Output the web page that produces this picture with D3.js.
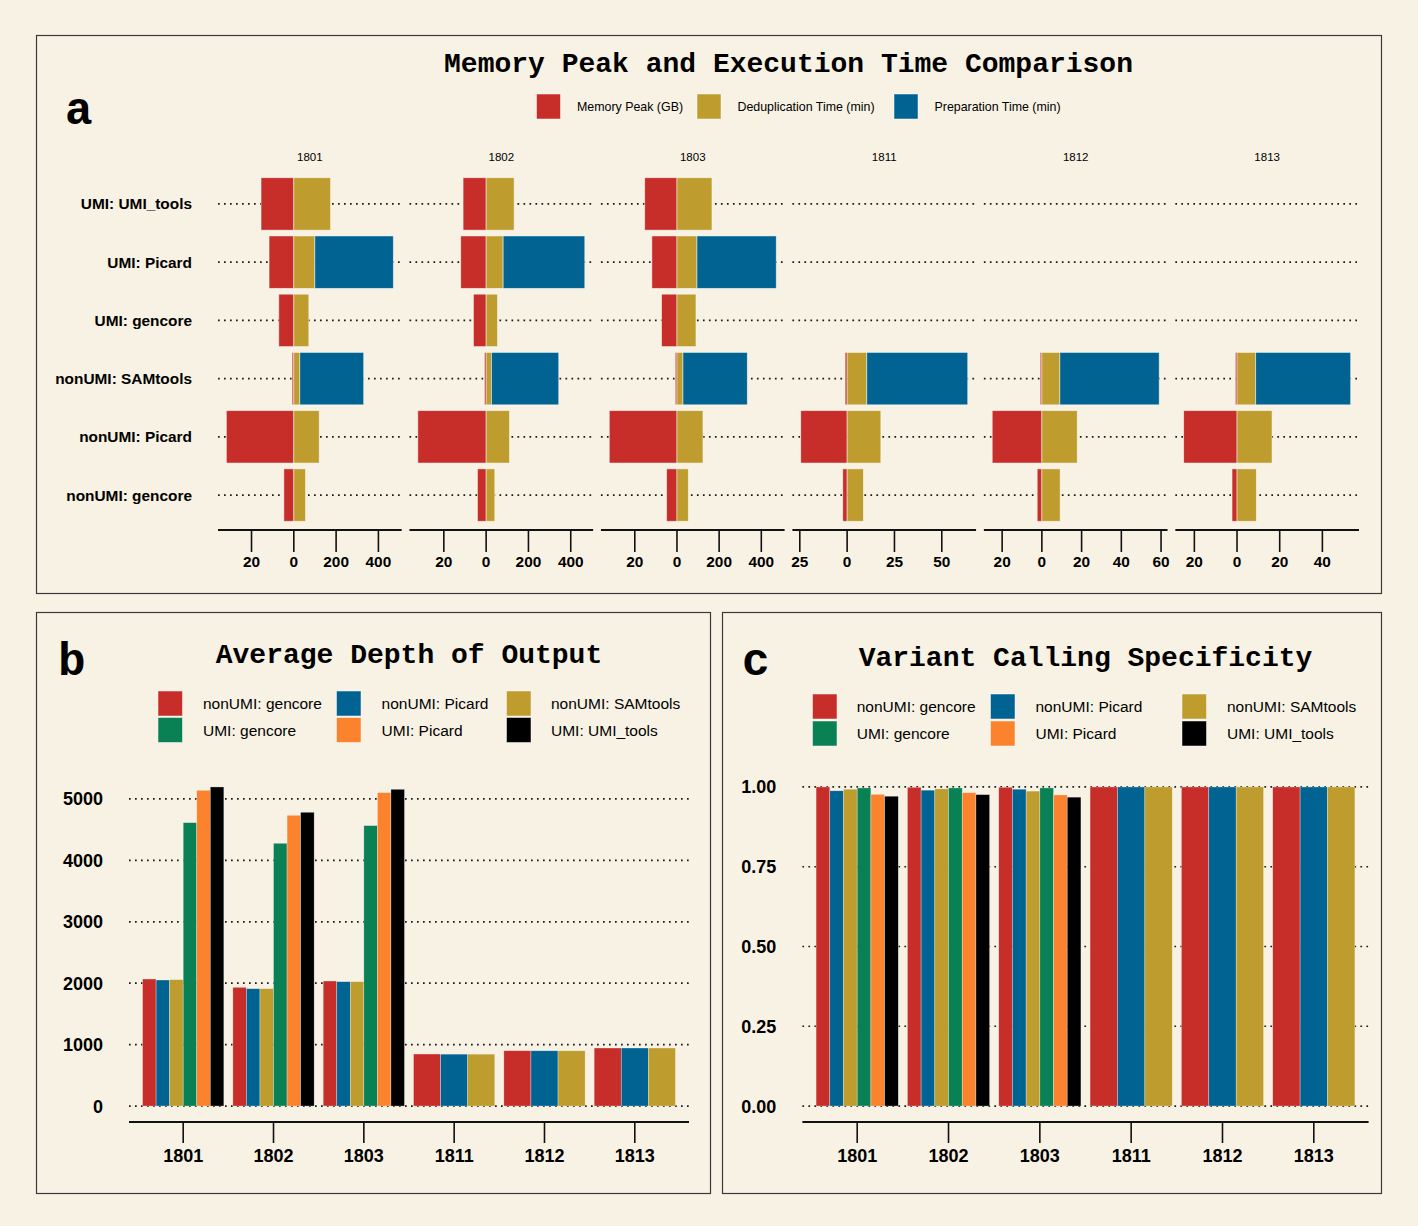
<!DOCTYPE html>
<html><head><meta charset="utf-8">
<script src="https://cdn.jsdelivr.net/npm/d3@7"></script>
<style>body{margin:0;background:#F8F2E4;} svg{display:block}</style>
</head><body>
<svg id="chart" width="1418" height="1226"></svg>
<script>
// ---------- DATA ----------
const samples = ["1801", "1802", "1803", "1811", "1812", "1813"];
// panel a rows (top to bottom)
const rowMethods = ["UMI: UMI_tools", "UMI: Picard", "UMI: gencore", "nonUMI: SAMtools", "nonUMI: Picard", "nonUMI: gencore"];
// memory is drawn multiplied by this factor in each facet
const memoryFactor = [10, 10, 10, 1, 1, 1];
// memory peak (GB) per sample, in rowMethods order
const memoryPeak = [
  [15.5, 11.7, 7.1, 0.8, 31.9, 4.7],
  [10.9, 12.0, 6.0, 0.8, 32.3, 4.1],
  [15.3, 11.9, 7.3, 0.8, 32.1, 4.9],
  [null, null, null, 1.06, 24.5, 2.3],
  [null, null, null, 0.84, 25.0, 2.35],
  [null, null, null, 0.78, 25.0, 2.34]
];
// deduplication time (min)
const dedupTime = [
  [173.8, 99.5, 71.0, 28.4, 120.0, 55.3],
  [132.4, 80.4, 53.6, 25.2, 110.3, 41.0],
  [166.0, 94.9, 90.1, 28.5, 123.3, 53.8],
  [null, null, null, 10.4, 17.8, 8.6],
  [null, null, null, 9.06, 17.8, 9.2],
  [null, null, null, 8.75, 16.4, 9.06]
];
// preparation time (min)
const prepTime = [
  [0, 371, 0, 302, 0, 0],
  [0, 386, 0, 318, 0, 0],
  [0, 376, 0, 305, 0, 0],
  [null, null, null, 53.3, 0, 0],
  [null, null, null, 50.0, 0, 0],
  [null, null, null, 44.5, 0, 0]
];
// axis tick values per facet (plotted units; negatives are memory side)
const facetTicks = [
  [-200, 0, 200, 400],
  [-200, 0, 200, 400],
  [-200, 0, 200, 400],
  [-25, 0, 25, 50],
  [-20, 0, 20, 40, 60],
  [-20, 0, 20, 40]
];
const legendA = ["Memory Peak (GB)", "Deduplication Time (min)", "Preparation Time (min)"];

// panels b & c: methods in dodge order
const methods = ["nonUMI: gencore", "nonUMI: Picard", "nonUMI: SAMtools", "UMI: gencore", "UMI: Picard", "UMI: UMI_tools"];
const depth = [
  [2068, 2052, 2058, 4614, 5141, 5195],
  [1933, 1911, 1911, 4278, 4734, 4783],
  [2036, 2025, 2025, 4566, 5103, 5157],
  [847, 845, 845],
  [901, 900, 900],
  [945, 945, 945]
];
const specificity = [
  [1.000, 0.988, 0.993, 0.997, 0.977, 0.971],
  [0.999, 0.990, 0.994, 0.997, 0.982, 0.976],
  [0.999, 0.993, 0.987, 0.997, 0.975, 0.968],
  [1.000, 1.000, 1.000],
  [1.000, 1.000, 1.000],
  [1.000, 1.000, 1.000]
];
const depthTicks = [0, 1000, 2000, 3000, 4000, 5000];
const specTicks = [0, 0.25, 0.5, 0.75, 1.0];

// ---------- STYLE ----------
const BG = "#F8F2E4";
const RED = "#C72E29", BLUE = "#016392", GOLD = "#BE9C2E", GREEN = "#098154", ORANGE = "#FB832D", BLACK = "#000000";
const methodColor = d3.scaleOrdinal().domain(methods).range([RED, BLUE, GOLD, GREEN, ORANGE, BLACK]);
const MONO = "'Liberation Mono', 'Courier New', monospace";
const SANS = "'Liberation Sans', Arial, Helvetica, sans-serif";

const svg = d3.select("#chart");
svg.append("rect").attr("width", 1418).attr("height", 1226).attr("fill", BG);

function box(x0, y0, x1, y1) {
  svg.append("rect").attr("x", x0 + 0.5).attr("y", y0 + 0.5).attr("width", x1 - x0).attr("height", y1 - y0)
    .attr("fill", BG).attr("stroke", "#3a3a3a").attr("stroke-width", 1.2);
}
function dotted(g, x0, x1, y) {
  g.append("line").attr("x1", x0).attr("x2", x1).attr("y1", y).attr("y2", y)
    .attr("stroke", "#1a1a1a").attr("stroke-width", 1.7).attr("stroke-dasharray", "1.7 4.3");
}
function title(text, cx, y) {
  svg.append("text").attr("x", cx).attr("y", y).attr("text-anchor", "middle")
    .attr("font-family", MONO).attr("font-weight", "bold").attr("font-size", 28).attr("fill", "#000").text(text);
}
function tag(text, x, y) {
  svg.append("text").attr("x", x).attr("y", y).attr("font-family", MONO).attr("font-weight", "bold")
    .attr("font-size", 46).attr("fill", "#000").text(text);
}

// ---------- PANEL A ----------
box(36, 35, 1381, 593);
const aLeft = 218, aRight = 1359, aTop = 169, aBottom = 530, facetGap = 7.8;
const facetW = (aRight - aLeft - facetGap * (samples.length - 1)) / samples.length;
title("Memory Peak and Execution Time Comparison", (aLeft + aRight) / 2, 72);
tag("a", 65, 124);

// legend a
const legAColors = [RED, GOLD, BLUE];
const legAX = [536.5, 697, 894];
legendA.forEach((t, i) => {
  svg.append("rect").attr("x", legAX[i]).attr("y", 94).attr("width", 24).attr("height", 25).attr("fill", legAColors[i])
    .attr("stroke", "#fff").attr("stroke-opacity", 0.6).attr("stroke-width", 0.8);
  svg.append("text").attr("x", legAX[i] + 40.5).attr("y", 111).attr("font-family", SANS).attr("font-size", 12.4)
    .attr("fill", "#000").text(t);
});

const yA = d3.scalePoint().domain(rowMethods).range([aTop, aBottom]).padding(0.6);
const barHA = yA.step() * 0.9;

// row labels
rowMethods.forEach(m => {
  svg.append("text").attr("x", 192).attr("y", yA(m) + 5.5).attr("text-anchor", "end")
    .attr("font-family", SANS).attr("font-weight", "bold").attr("font-size", 15.4).attr("fill", "#000").text(m);
});

samples.forEach((s, si) => {
  const fx0 = aLeft + si * (facetW + facetGap), fx1 = fx0 + facetW;
  const f = memoryFactor[si];
  const negs = memoryPeak[si].filter(v => v != null).map(v => -v * f);
  const poss = dedupTime[si].map((v, k) => v == null ? null : v + prepTime[si][k]).filter(v => v != null);
  const lo = Math.min(0, d3.min(negs)), hi = Math.max(0, d3.max(poss));
  const pad = (hi - lo) * 0.05;
  const x = d3.scaleLinear().domain([lo - pad, hi + pad]).range([fx0, fx1]);
  const g = svg.append("g");

  // strip label
  g.append("text").attr("x", (fx0 + fx1) / 2).attr("y", 161).attr("text-anchor", "middle")
    .attr("font-family", SANS).attr("font-size", 11.5).attr("fill", "#000").text(s);

  rowMethods.forEach(m => dotted(g, fx0, fx1, yA(m)));

  rowMethods.forEach((m, k) => {
    const mem = memoryPeak[si][k];
    if (mem == null) return;
    const y0 = yA(m) - barHA / 2;
    const ded = dedupTime[si][k], prep = prepTime[si][k];
    const segs = [
      { a: -mem * f, b: 0, c: RED },
      { a: 0, b: ded, c: GOLD },
      { a: ded, b: ded + prep, c: BLUE }
    ].filter(d => d.b - d.a > 0);
    segs.forEach(d => {
      g.append("rect").attr("x", x(d.a)).attr("y", y0).attr("width", x(d.b) - x(d.a)).attr("height", barHA)
        .attr("fill", d.c).attr("stroke", "#fff").attr("stroke-opacity", 0.6).attr("stroke-width", 0.8);
    });
  });

  // axis
  g.append("line").attr("x1", fx0).attr("x2", fx1).attr("y1", aBottom).attr("y2", aBottom)
    .attr("stroke", "#111").attr("stroke-width", 2);
  facetTicks[si].forEach(t => {
    g.append("line").attr("x1", x(t)).attr("x2", x(t)).attr("y1", aBottom).attr("y2", aBottom + 22)
      .attr("stroke", "#111").attr("stroke-width", 1.6);
    g.append("text").attr("x", x(t)).attr("y", 567).attr("text-anchor", "middle")
      .attr("font-family", SANS).attr("font-weight", "bold").attr("font-size", 15.4).attr("fill", "#000")
      .text(t < 0 ? Math.abs(t) / f : t);
  });
});

// ---------- PANELS B & C ----------
function barPanel(cfg) {
  box(cfg.bx0, 612, cfg.bx1, 1193);
  title(cfg.title, (cfg.px0 + cfg.px1) / 2, cfg.titleY);
  tag(cfg.tag, cfg.tagX, 675);
  // legend (3 columns x 2 rows)
  methods.forEach((m, i) => {
    const col = i % 3, row = Math.floor(i / 3);
    const lx = cfg.legX[col], ly = cfg.legY[row];
    svg.append("rect").attr("x", lx).attr("y", ly).attr("width", 24.5).attr("height", 25).attr("fill", methodColor(m))
      .attr("stroke", "#fff").attr("stroke-opacity", 0.6).attr("stroke-width", 0.8);
    svg.append("text").attr("x", cfg.legTX[col]).attr("y", ly + 18).attr("font-family", SANS).attr("font-size", 15.5)
      .attr("fill", "#000").text(m);
  });

  const top = 771, bottom = 1122;
  const maxV = d3.max(cfg.values.flat());
  const y = d3.scaleLinear().domain([-0.05 * maxV, 1.05 * maxV]).range([bottom, top]);
  const x = d3.scalePoint().domain(samples).range([cfg.px0, cfg.px1]).padding(0.6);
  const g = svg.append("g");

  cfg.ticks.forEach(t => {
    dotted(g, cfg.px0, cfg.px1, y(t));
    g.append("text").attr("x", cfg.px0 - 26).attr("y", y(t) + 6.5).attr("text-anchor", "end")
      .attr("font-family", SANS).attr("font-weight", "bold").attr("font-size", 18).attr("fill", "#000")
      .text(cfg.fmt(t));
  });

  const groupW = x.step() * 0.9;
  samples.forEach((s, si) => {
    const vals = cfg.values[si];
    const inner = d3.scaleBand().domain(methods.slice(0, vals.length)).range([x(s) - groupW / 2, x(s) + groupW / 2]);
    vals.forEach((v, k) => {
      const m = methods[k];
      g.append("rect").attr("x", inner(m)).attr("width", inner.bandwidth())
        .attr("y", y(v)).attr("height", y(0) - y(v)).attr("fill", methodColor(m))
        .attr("stroke", "#fff").attr("stroke-opacity", 0.5).attr("stroke-width", 0.6);
    });
  });

  g.append("line").attr("x1", cfg.px0).attr("x2", cfg.px1).attr("y1", bottom).attr("y2", bottom)
    .attr("stroke", "#111").attr("stroke-width", 2);
  samples.forEach(s => {
    g.append("line").attr("x1", x(s)).attr("x2", x(s)).attr("y1", bottom).attr("y2", bottom + 21)
      .attr("stroke", "#111").attr("stroke-width", 1.6);
    g.append("text").attr("x", x(s)).attr("y", 1162).attr("text-anchor", "middle")
      .attr("font-family", SANS).attr("font-weight", "bold").attr("font-size", 18).attr("fill", "#000").text(s);
  });
}

barPanel({
  bx0: 36, bx1: 710, px0: 129, px1: 689, title: "Average Depth of Output", titleY: 663, tag: "b", tagX: 58,
  legX: [158, 336.5, 506.5], legTX: [203, 381.6, 551], legY: [691, 717.5],
  values: depth, ticks: depthTicks, fmt: d3.format("d")
});
barPanel({
  bx0: 722, bx1: 1381, px0: 802.4, px1: 1368.6, title: "Variant Calling Specificity", titleY: 666, tag: "c", tagX: 742,
  legX: [812.5, 990.5, 1182], legTX: [856.7, 1035.5, 1227], legY: [694, 721],
  values: specificity, ticks: specTicks, fmt: d3.format(".2f")
});
</script>
</body></html>
